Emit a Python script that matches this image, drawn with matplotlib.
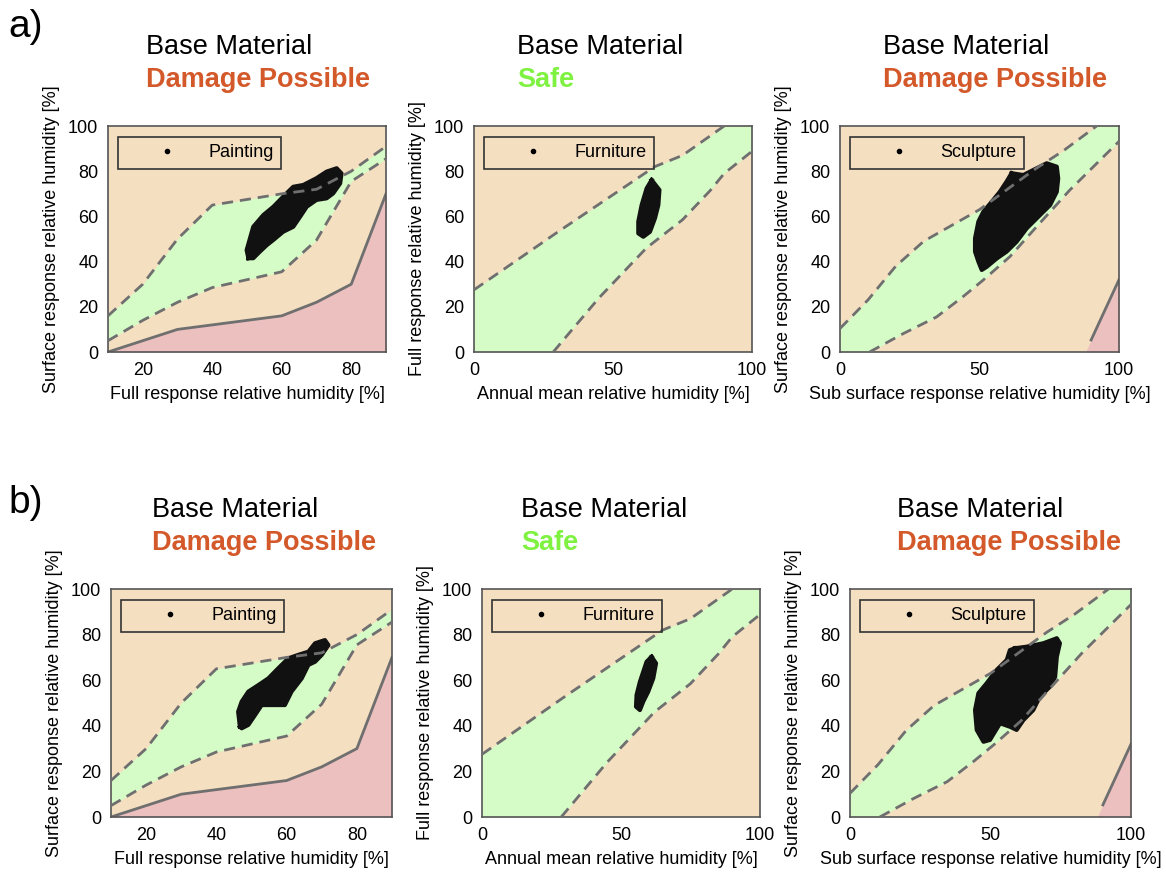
import matplotlib
matplotlib.use('Agg')
import matplotlib.pyplot as plt
from matplotlib.lines import Line2D
import numpy as np

plt.rcParams['font.family'] = ['Liberation Sans', 'DejaVu Sans']

W, H = 1166, 875

ORANGE_BG = '#f5dfc1'
GREEN = '#d5fcc6'
PINK = '#ebc0bf'
LINE_GREY = '#6f6f6f'
DAMAGE = '#d4592a'
SAFE = '#7ff241'

# ---- Painting: surface RH vs full response RH ----
paint_x = [10, 20, 30, 40, 60, 70, 80, 90]
paint_upper = [16, 30, 50, 65, 70, 72, 80, 91]
paint_lower = [5, 14, 22, 28.5, 35.5, 49.5, 75.5, 85.5]
paint_fail = [0, 5, 10, 12, 16, 22, 30, 70]

# ---- Furniture: full response RH vs annual mean RH ----
furn_up_x = [0, 30, 65, 75, 90]
furn_up_y = [27.5, 53, 82, 87, 100]
furn_lo_x = [28.5, 45, 62, 75, 85, 90, 100]
furn_lo_y = [0, 24, 46, 58.5, 71.5, 79, 88.8]

# ---- Sculpture: surface RH vs sub surface RH ----
sculp_up_x = [0, 10, 20, 30, 40, 50, 60, 70, 80, 92]
sculp_up_y = [10.4, 23, 38, 49, 56, 63, 72, 81, 89, 100]
sculp_lo_x = [10.6, 22.6, 34.6, 44, 51.3, 60.9, 70.5, 82.4, 100]
sculp_lo_y = [0, 8.1, 15.5, 24.4, 31.8, 42.2, 55.5, 71.7, 93.2]
sculp_fail_x = [88, 90, 100]
sculp_fail_y = [0, 5.3, 32]

paint_a_x = [50.4, 49.9, 51.8, 54.7, 57.6, 60.4, 63.3, 66.2, 70, 72.9, 75.8, 77.2, 76.8,
             74.8, 72.9, 70, 67.2, 65.3, 63.3, 60.4, 57.6, 55.7, 53.7, 51.8]
paint_a_y = [41.5, 45.1, 55.4, 60.6, 64.3, 68.7, 73.1, 73.9, 76.9, 79.8, 81.3, 79, 74.6,
             70.2, 68, 67.3, 64.3, 59.9, 55.4, 53.2, 49.6, 47.3, 44.4, 41.5]
paint_b_x = [46.7, 46.2, 47.2, 49.1, 52, 54.8, 57.6, 60.5, 63.3, 66.2, 68.1, 70.9, 71.9,
             70, 68.1, 66.2, 64.3, 61.4, 59.5, 56.7, 52.9, 51, 49.1, 47.2]
paint_b_y = [39.6, 46.2, 50.6, 55, 57.9, 60.8, 65.2, 69.6, 71.1, 72.5, 76.2, 77.6, 75.4,
             71.1, 68.1, 66.7, 60.8, 55, 49.1, 49.1, 49.1, 44.7, 40.4, 38.9]
furn_a_x = [63.9, 66.7, 66.3, 65.1, 63.3, 60.9, 59.1, 59.1, 60.3, 62.1]
furn_a_y = [76.1, 71.7, 65, 59.2, 53.2, 51, 52.5, 57.7, 65, 72.4]
furn_b_x = [61, 62.6, 61.6, 59.8, 58, 56.8, 55.4, 55.6, 56.8, 58, 59.2]
furn_b_y = [70.3, 67.4, 60.8, 55, 50.6, 46.9, 48.4, 53.5, 59.3, 63.7, 68.1]
sculp_a_x = [61.5, 65.7, 70.5, 74.1, 77.7, 78.2, 77.7, 75.3, 71.7, 66.9, 63.3, 59.7, 56.2,
             52.6, 50.8, 49.6, 48.4, 48.4, 49.6, 51.4, 54.4, 57.3, 59.7]
sculp_a_y = [79.1, 78.3, 81.3, 83.5, 82, 76.8, 70.9, 65, 60.6, 54.7, 48.8, 44.4, 41.4,
             37.7, 36.3, 40, 44.4, 50.3, 57.7, 62.1, 66.5, 70.9, 75.4]
sculp_b_x = [58.7, 62.9, 68.8, 73.6, 74.7, 73.6, 73, 71.2, 67.6, 65.2, 61.7, 59.3, 56.9,
             53.4, 49.8, 47.5, 45.1, 44.5, 45.7, 48.6, 52.2, 55.8, 56.9]
sculp_b_y = [74, 74.7, 76.2, 78.4, 76.2, 70.3, 61.5, 57.2, 52.8, 46.9, 42.5, 38.2, 39.6,
             41.1, 33.8, 33, 38.2, 46.9, 54.3, 58.6, 64.5, 68.9, 73.2]

fig = plt.figure(figsize=(W / 100, H / 100), dpi=100)


def make_ax(left, right, top, bottom):
    return fig.add_axes([left / W, 1 - bottom / H, (right - left) / W, (bottom - top) / H])


def draw_cloud(ax, tx, ty):
    ax.fill(tx, ty, color='#111111', lw=0, zorder=3)
    ax.plot(tx + tx[:1], ty + ty[:1], color='#111111', lw=3, solid_joinstyle='round', zorder=3)


def style_ax(ax, xlim, xticks, xlabel, ylabel, name):
    ax.set_facecolor(ORANGE_BG)
    ax.set_xlim(*xlim)
    ax.set_ylim(0, 100)
    ax.set_xticks(xticks)
    ax.set_yticks([0, 20, 40, 60, 80, 100])
    ax.tick_params(length=0, labelsize=13, pad=7)
    ax.set_xlabel(xlabel, fontsize=13, labelpad=5)
    ax.set_ylabel(ylabel, fontsize=13, labelpad=6)
    for s in ax.spines.values():
        s.set_color('#555555')
        s.set_linewidth(1.2)
    h = Line2D([], [], marker='.', ls='', color='k', markersize=6, label=name)
    leg = ax.legend(handles=[h], loc='upper left', bbox_to_anchor=(0.036, 0.951),
                    borderaxespad=0, fontsize=13, handlelength=4.6, handletextpad=0.0,
                    borderpad=0.4, fancybox=False)
    frame = leg.get_frame()
    frame.set_facecolor('none')
    frame.set_edgecolor('#333333')
    frame.set_linewidth(1.2)
    frame.set_alpha(None)


def painting(ax, tx, ty):
    xs = np.array(paint_x)
    ax.fill_between(xs, paint_lower, paint_upper, color=GREEN, lw=0, zorder=1)
    ax.fill_between(xs, 0, paint_fail, color=PINK, lw=0, zorder=1)
    ax.plot(xs, paint_fail, color=LINE_GREY, lw=2, zorder=2)
    draw_cloud(ax, tx, ty)
    ax.plot(xs, paint_upper, color=LINE_GREY, lw=2, ls=(0, (4, 2.5)), zorder=4)
    ax.plot(xs, paint_lower, color=LINE_GREY, lw=2, ls=(0, (4, 2.5)), zorder=4)
    style_ax(ax, (10, 90), [20, 40, 60, 80], 'Full response relative humidity [%]',
             'Surface response relative humidity [%]', 'Painting')


def furniture(ax, tx, ty):
    grid = np.linspace(0, 100, 401)
    up = np.interp(grid, furn_up_x, furn_up_y)
    lo = np.interp(grid, furn_lo_x, furn_lo_y)
    ax.fill_between(grid, lo, up, color=GREEN, lw=0, zorder=1)
    draw_cloud(ax, tx, ty)
    ax.plot(furn_up_x, furn_up_y, color=LINE_GREY, lw=2, ls=(0, (4, 2.5)), zorder=4)
    ax.plot(furn_lo_x, furn_lo_y, color=LINE_GREY, lw=2, ls=(0, (4, 2.5)), zorder=4)
    style_ax(ax, (0, 100), [0, 50, 100], 'Annual mean relative humidity [%]',
             'Full response relative humidity [%]', 'Furniture')


def sculpture(ax, tx, ty):
    grid = np.linspace(0, 100, 401)
    up = np.interp(grid, sculp_up_x, sculp_up_y)
    lo = np.interp(grid, sculp_lo_x, sculp_lo_y)
    ax.fill_between(grid, lo, up, color=GREEN, lw=0, zorder=1)
    ax.fill_between(sculp_fail_x, 0, sculp_fail_y, color=PINK, lw=0, zorder=1)
    ax.plot(sculp_fail_x[1:], sculp_fail_y[1:], color=LINE_GREY, lw=2, zorder=2)
    draw_cloud(ax, tx, ty)
    ax.plot(sculp_up_x, sculp_up_y, color=LINE_GREY, lw=2, ls=(0, (4, 2.5)), zorder=4)
    ax.plot(sculp_lo_x, sculp_lo_y, color=LINE_GREY, lw=2, ls=(0, (4, 2.5)), zorder=4)
    style_ax(ax, (0, 100), [0, 50, 100], 'Sub surface response relative humidity [%]',
             'Surface response relative humidity [%]', 'Sculpture')


# row a
painting(make_ax(108, 386, 126, 352), paint_a_x, paint_a_y)
furniture(make_ax(474, 752, 126, 352), furn_a_x, furn_a_y)
sculpture(make_ax(840, 1119, 126, 352), sculp_a_x, sculp_a_y)
# row b
painting(make_ax(111, 392, 589, 817), paint_b_x, paint_b_y)
furniture(make_ax(482, 760, 589, 817), furn_b_x, furn_b_y)
sculpture(make_ax(850, 1131, 589, 817), sculp_b_x, sculp_b_y)


def title(x, y, status, color):
    fig.text(x / W, 1 - y / H, 'Base Material', fontsize=19.5, va='baseline', ha='left')
    fig.text(x / W, 1 - (y + 33) / H, status, fontsize=19.5, fontweight='bold',
             color=color, va='baseline', ha='left')


title(146, 54, 'Damage Possible', DAMAGE)
title(517, 54, 'Safe', SAFE)
title(883, 54, 'Damage Possible', DAMAGE)
title(152, 517, 'Damage Possible', DAMAGE)
title(521, 517, 'Safe', SAFE)
title(897, 517, 'Damage Possible', DAMAGE)

fig.text(8 / W, 1 - 37 / H, 'a)', fontsize=28, va='baseline', ha='left')
fig.text(8 / W, 1 - 513 / H, 'b)', fontsize=28, va='baseline', ha='left')

fig.savefig('out.png', dpi=100)
